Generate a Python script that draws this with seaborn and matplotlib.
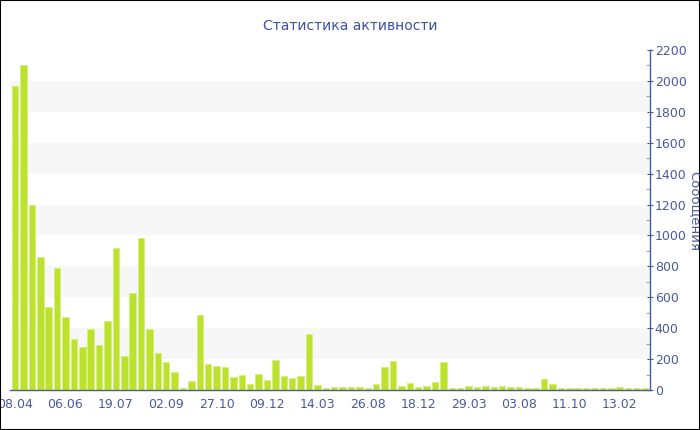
import pandas as pd
import matplotlib.pyplot as plt
import seaborn as sns
from matplotlib.patches import Rectangle

# values per period (messages)
values = [1970, 2100, 1200, 863, 535, 792, 475, 332, 278, 393,
          291, 445, 921, 220, 626, 982, 393, 237, 179, 114,
          15, 56, 487, 168, 153, 147, 86, 97, 41, 101,
          67, 196, 91, 76, 91, 360, 30, 15, 19, 21,
          19, 19, 16, 37, 147, 190, 26, 43, 21, 26,
          54, 179, 15, 16, 26, 21, 26, 21, 26, 18,
          19, 15, 14, 69, 41, 16, 16, 16, 12, 14,
          14, 15, 18, 14, 14, 14]
tick_labels = ['08.04', '06.06', '19.07', '02.09', '27.10', '09.12', '14.03',
               '26.08', '18.12', '29.03', '03.08', '11.10', '13.02']
tick_step = 6

blue = '#4A5A9C'
bar_color = '#BDE22E'

df = pd.DataFrame({'period': range(len(values)), 'count': values})

sns.set_style('white')
plt.rcParams['font.family'] = ['DejaVu Sans']

fig = plt.figure(figsize=(7, 4.3), dpi=100)
ax = fig.add_axes([10 / 700, 40 / 430, 640 / 700, 340 / 430])

# light stripes behind the bars
for lo in range(200, 2200, 400):
    ax.axhspan(lo, lo + 200, color='#F7F7F7', zorder=0, lw=0)

sns.barplot(data=df, x='period', y='count', color=bar_color, width=0.78,
            edgecolor='#D6EF7A', linewidth=0.6, saturation=1, ax=ax, zorder=2)

ax.set_xlim(-0.6, len(values) - 0.4)
ax.set_ylim(0, 2200)
ax.set_xticks(range(0, len(values), tick_step))
ax.set_xticklabels(tick_labels)
ax.set_yticks(range(0, 2201, 200))
ax.set_yticks(range(100, 2200, 200), minor=True)
ax.yaxis.tick_right()
ax.set_xlabel('')
ax.set_ylabel('')

for s in ['top', 'left']:
    ax.spines[s].set_visible(False)
for s in ['bottom', 'right']:
    ax.spines[s].set_color(blue)
    ax.spines[s].set_linewidth(1)

ax.tick_params(axis='x', colors=blue, labelsize=9, length=4, width=0.8, pad=2)
ax.tick_params(axis='y', which='major', colors=blue, labelsize=9, length=5,
               width=0.8, direction='inout', pad=1)
ax.tick_params(axis='y', which='minor', colors='#9AA3C4', length=3, width=0.8,
               direction='in')

fig.text(0.5, 0.94, 'Статистика активности', ha='center', va='center',
         fontsize=10, color='#3D52A1')
fig.text(0.992, 0.51, 'Сообщения', ha='center', va='center', rotation=270,
         fontsize=9.5, color=blue)

fig.patches.append(Rectangle((0, 0), 1, 1, transform=fig.transFigure,
                             fill=False, edgecolor='black', lw=1.5))

plt.savefig('out.png', dpi=100)
